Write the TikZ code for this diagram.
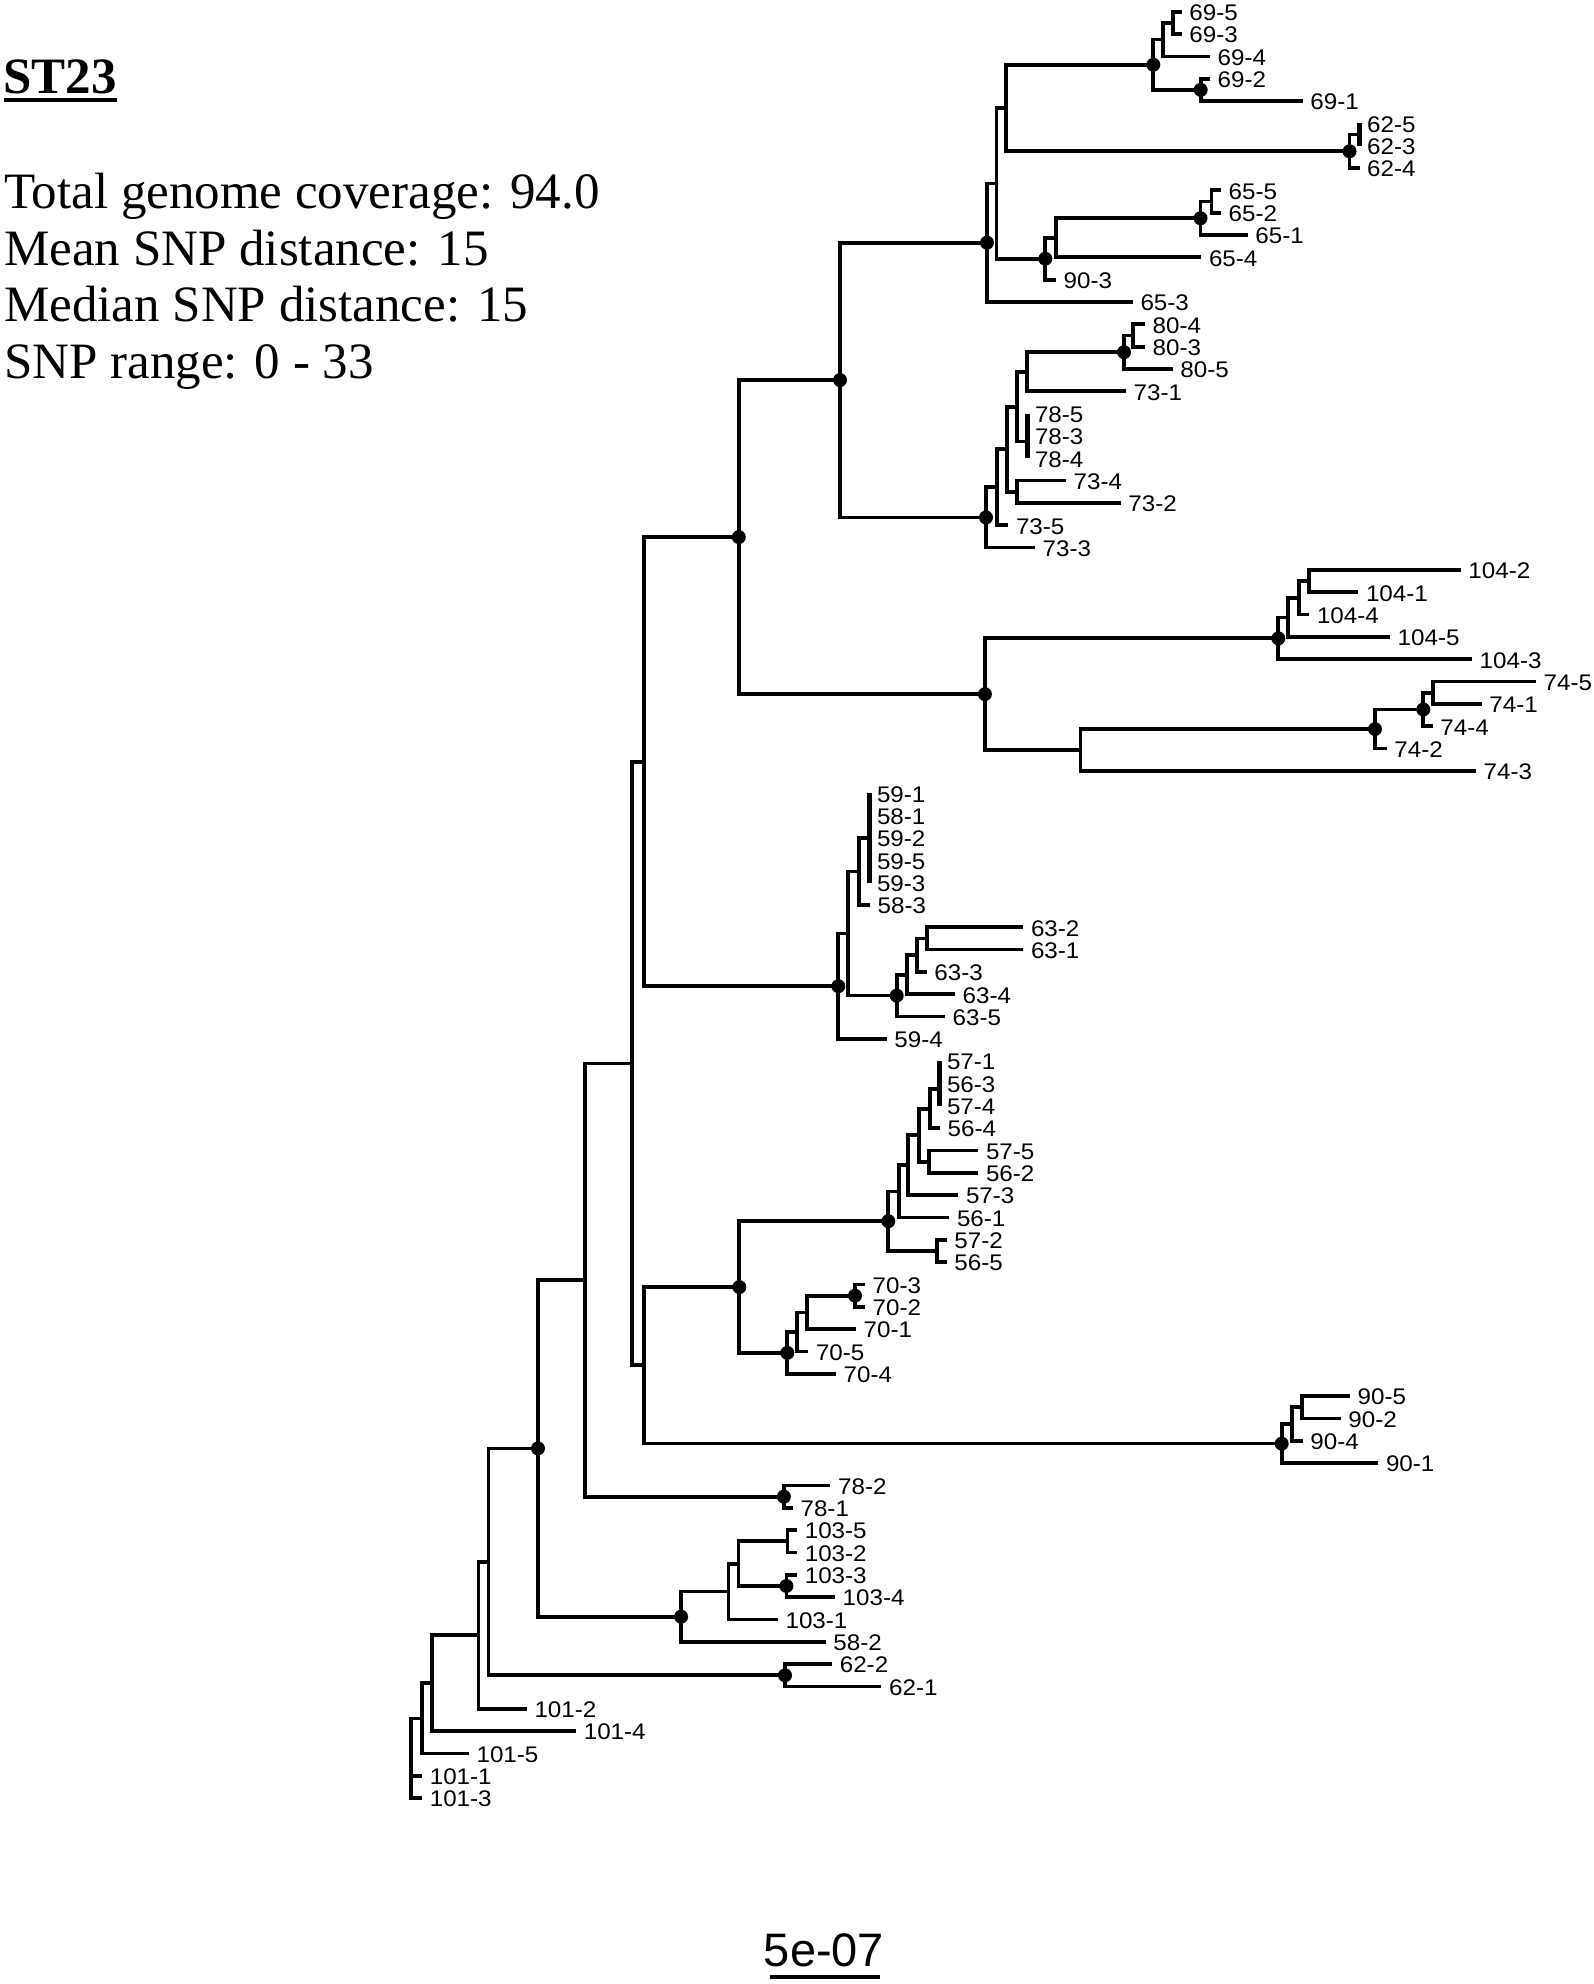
\documentclass[tikz,border=0pt]{standalone}
\usepackage{graphicx}
\usepackage{fontspec}
\setmainfont{Liberation Serif}
\newfontfamily\arialf{Liberation Sans}
\newcommand{\lblbox}[1]{\scalebox{1.07}[1]{#1}}
\begin{document}
\begin{tikzpicture}[x=1pt,y=-1pt,
  br/.style={line width=3.7pt},
  zl/.style={line width=5pt},
  lab/.style={anchor=west,inner sep=0pt,xshift=7.5pt,yshift=-1pt,font={\arialf\fontsize{22.6pt}{22.6pt}\selectfont}},
  info/.style={anchor=base west,inner sep=0pt,font={\fontsize{51pt}{51pt}\selectfont}},
  dotn/.style={fill=black}]
\useasboundingbox (0,0) rectangle (1594,1984);
% header texts
\node[info,font={\bfseries\fontsize{51pt}{51pt}\selectfont}] (title) at (3,93) {ST23};
\coordinate (ulA) at (4,100);
\coordinate (ulB) at (117,100);
\draw[line width=3.5pt] (ulA) -- (ulB);
\node[info] (cov) at (4,208) {Total genome coverage: 94.0};
\node[info] (mean) at (4,265) {Mean SNP distance: 15};
\node[info] (med) at (4,321) {Median SNP distance: 15};
\node[info] (rng) at (4,378) {SNP range: 0 - 33};
% scale
\node[anchor=base,inner sep=0pt,font={\arialf\fontsize{47pt}{47pt}\selectfont}] (scl) at (824,1966) {5e-07};
\coordinate (sbA) at (770,1977);
\coordinate (sbB) at (880,1977);
\draw[line width=4pt] (sbA) -- (sbB);
% tree
\begin{scope}[yshift=-11.7pt,y=-22.33pt]
\foreach \i/\xx/\lbl in {0/1181.7/69-5,1/1181.7/69-3,2/1210/69-4,3/1210/69-2,4/1302.7/69-1,
 5/1359.5/62-5,6/1359.5/62-3,7/1359.5/62-4,8/1221/65-5,9/1221/65-2,10/1247.7/65-1,
 11/1201.3/65-4,12/1056/90-3,13/1132.8/65-3,14/1145/80-4,15/1145/80-3,16/1172.7/80-5,
 17/1126/73-1,18/1027.3/78-5,19/1027.3/78-3,20/1027.3/78-4,21/1066/73-4,22/1120.7/73-2,
 23/1008.3/73-5,24/1035/73-3,25/1460.7/104-2,26/1358.3/104-1,27/1309.3/104-4,
 28/1390/104-5,29/1472/104-3,30/1536/74-5,31/1481.7/74-1,32/1432.7/74-4,
 33/1386.7/74-2,34/1476/74-3,35/869.3/59-1,36/869.3/58-1,37/869.3/59-2,38/869.3/59-5,
 39/869.3/59-3,40/870/58-3,41/1023.3/63-2,42/1023.3/63-1,43/926.7/63-3,44/955/63-4,
 45/945/63-5,46/886.7/59-4,47/939.3/57-1,48/939.3/56-3,49/939.3/57-4,50/940/56-4,
 51/978.3/57-5,52/978.3/56-2,53/958.3/57-3,54/949.3/56-1,55/946.7/57-2,56/946.7/56-5,
 57/865/70-3,58/865/70-2,59/856/70-1,60/808.3/70-5,61/836/70-4,62/1350/90-5,
 63/1340.7/90-2,64/1302.7/90-4,65/1378.3/90-1,66/830.4/78-2,67/792.9/78-1,
 68/797.1/103-5,69/797.1/103-2,70/797.1/103-3,71/835/103-4,72/777.9/103-1,
 73/825.7/58-2,74/832.1/62-2,75/881.4/62-1,76/526.8/101-2,77/576.1/101-4,
 78/468.9/101-5,79/422.1/101-1,80/422.1/101-3}{
  \coordinate (L\i) at (\xx,\i);
  \node[lab] (T\i) at (L\i) {\lblbox{\lbl}};
}
% internal nodes
\coordinate (a1) at (1173.3,0.5);
\coordinate (a2) at (1163.3,1.25);
\coordinate (a3) at (1200.7,3.5);
\coordinate (a4) at (1153.3,2.375);
\coordinate (a5) at (1359.5,5.5);
\coordinate (a6) at (1349.5,6.25);
\coordinate (a7) at (1006.3,4.3125);
\coordinate (a8) at (1211.6,8.5);
\coordinate (a9) at (1200.5,9.25);
\coordinate (a10) at (1056,10.125);
\coordinate (a11) at (1045.3,11.0625);
\coordinate (a12) at (996.4,7.6875);
\coordinate (a13) at (987,10.344);
\coordinate (b1) at (1133.3,14.5);
\coordinate (b2) at (1124,15.25);
\coordinate (b3) at (1027.3,16.125);
\coordinate (b4) at (1027.3,19.25);
\coordinate (b5) at (1016.7,17.6875);
\coordinate (b6) at (1016.7,21.5);
\coordinate (b7) at (1006.7,19.594);
\coordinate (b8) at (996.7,21.297);
\coordinate (b9) at (986,22.648);
\coordinate (x1) at (840,16.496);
\coordinate (c1) at (1309.3,25.5);
\coordinate (c2) at (1299.3,26.25);
\coordinate (c3) at (1288.3,27.125);
\coordinate (c4) at (1278.3,28.0625);
\coordinate (d1) at (1432.7,30.5);
\coordinate (d2) at (1423.3,31.25);
\coordinate (d3) at (1375,32.125);
\coordinate (d4) at (1080.6,33.0625);
\coordinate (e1) at (984.9,30.5625);
\coordinate (w) at (738.8,23.529);
\coordinate (f1) at (869.3,37);
\coordinate (f2) at (859.3,38.5);
\coordinate (g1) at (926.7,41.5);
\coordinate (g2) at (916.7,42.25);
\coordinate (g3) at (906.7,43.125);
\coordinate (g4) at (896.7,44.0625);
\coordinate (h1) at (848.3,41.28);
\coordinate (h2) at (838.3,43.64);
\coordinate (u) at (644.1,33.585);
\coordinate (i1) at (939.3,48.25);
\coordinate (i2) at (930,49.125);
\coordinate (i3) at (929.3,51.5);
\coordinate (i4) at (919.3,50.3125);
\coordinate (i5) at (908.3,51.656);
\coordinate (i6) at (899,52.828);
\coordinate (i7) at (936.7,55.5);
\coordinate (i8) at (888.3,54.164);
\coordinate (j1) at (855,57.5);
\coordinate (j2) at (807.3,58.25);
\coordinate (j3) at (797.3,59.125);
\coordinate (j4) at (787.3,60.0625);
\coordinate (k1) at (739.3,57.113);
\coordinate (l1) at (1301.7,62.5);
\coordinate (l2) at (1291.7,63.25);
\coordinate (l3) at (1281.7,64.125);
\coordinate (v) at (644.1,60.619);
\coordinate (t) at (631.8,47.102);
\coordinate (m1) at (783.9,66.5);
\coordinate (s) at (584.9,56.801);
\coordinate (n1) at (787.5,68.5);
\coordinate (n2) at (786.4,70.5);
\coordinate (n3) at (738.6,69.5);
\coordinate (n4) at (728.6,70.75);
\coordinate (n5) at (681.1,71.875);
\coordinate (q) at (538,64.338);
\coordinate (o1) at (785,74.5);
\coordinate (p4) at (488.6,69.419);
\coordinate (p3) at (478.6,72.71);
\coordinate (p2) at (432.1,74.855);
\coordinate (p1) at (422.1,76.43);
\coordinate (r) at (410.7,78.21);
% edges
\foreach \p/\c in {a1/L0,a1/L1,a2/a1,a2/L2,a3/L3,a3/L4,a4/a2,a4/a3,a5/L5,a5/L6,a6/a5,a6/L7,
 a7/a4,a7/a6,a8/L8,a8/L9,a9/a8,a9/L10,a10/a9,a10/L11,a11/a10,a11/L12,a12/a7,a12/a11,
 a13/a12,a13/L13,b1/L14,b1/L15,b2/b1,b2/L16,b3/b2,b3/L17,b4/L18,b4/L19,b4/L20,b5/b3,b5/b4,
 b6/L21,b6/L22,b7/b5,b7/b6,b8/b7,b8/L23,b9/b8,b9/L24,x1/a13,x1/b9,
 c1/L25,c1/L26,c2/c1,c2/L27,c3/c2,c3/L28,c4/c3,c4/L29,d1/L30,d1/L31,d2/d1,d2/L32,
 d3/d2,d3/L33,d4/d3,d4/L34,e1/c4,e1/d4,w/x1,w/e1,
 f1/L35,f1/L36,f1/L37,f1/L38,f1/L39,f2/f1,f2/L40,g1/L41,g1/L42,g2/g1,g2/L43,g3/g2,g3/L44,
 g4/g3,g4/L45,h1/f2,h1/g4,h2/h1,h2/L46,u/w,u/h2,
 i1/L47,i1/L48,i1/L49,i2/i1,i2/L50,i3/L51,i3/L52,i4/i2,i4/i3,i5/i4,i5/L53,i6/i5,i6/L54,
 i7/L55,i7/L56,i8/i6,i8/i7,j1/L57,j1/L58,j2/j1,j2/L59,j3/j2,j3/L60,j4/j3,j4/L61,k1/i8,k1/j4,
 l1/L62,l1/L63,l2/l1,l2/L64,l3/l2,l3/L65,v/k1,v/l3,t/u,t/v,m1/L66,m1/L67,s/t,s/m1,
 n1/L68,n1/L69,n2/L70,n2/L71,n3/n1,n3/n2,n4/n3,n4/L72,n5/n4,n5/L73,q/s,q/n5,
 o1/L74,o1/L75,p4/q,p4/o1,p3/p4,p3/L76,p2/p3,p2/L77,p1/p2,p1/L78,r/p1,r/L79,r/L80}{
  \draw[br] (\p) |- (\c);
}
% zero-length tip brackets
\draw[zl] (L5) -- (L6);
\draw[zl] (L18) -- (L20);
\draw[zl] (L35) -- (L39);
\draw[zl] (L47) -- (L49);
% support dots
\foreach \n in {a3,a4,a6,a9,a11,a13,b2,b9,x1,w,c4,d2,d3,e1,g4,h2,i8,j1,j4,k1,l3,q,m1,n2,n5,o1}{
  \fill[dotn] (\n) circle[radius=7pt];
}
\end{scope}
\end{tikzpicture}
\end{document}
